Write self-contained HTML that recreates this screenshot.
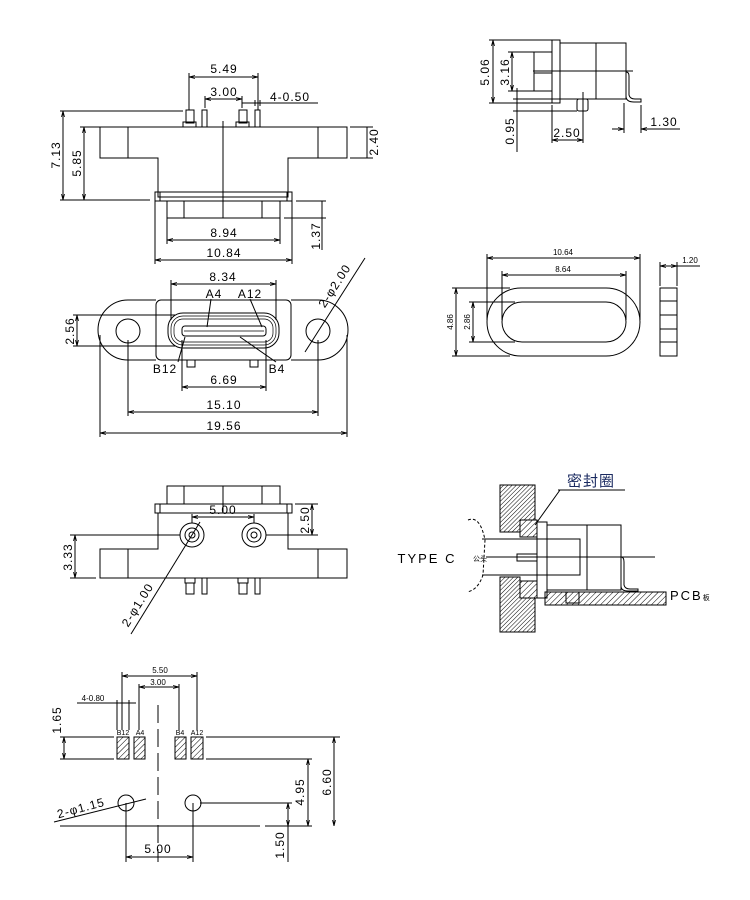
<!DOCTYPE html>
<html><head><meta charset="utf-8"><style>
html,body{margin:0;padding:0;background:#fff}
svg{display:block}
text{font-family:"Liberation Sans","Noto Sans CJK SC",sans-serif;font-size:12px;fill:#000;letter-spacing:1px}
.s{font-size:8px;letter-spacing:0}
</style></head><body>
<svg width="750" height="900" viewBox="0 0 750 900" xmlns="http://www.w3.org/2000/svg">
<defs>
<pattern id="h" width="4" height="4" patternUnits="userSpaceOnUse" patternTransform="rotate(45)"><line x1="0" y1="0" x2="0" y2="4" stroke="#000" stroke-width="1"/></pattern>
<pattern id="h2" width="3" height="3" patternUnits="userSpaceOnUse" patternTransform="rotate(45)"><line x1="0" y1="0" x2="0" y2="3" stroke="#000" stroke-width="1"/></pattern>
<marker id="a" markerWidth="6" markerHeight="6" refX="6" refY="3" orient="auto-start-reverse" markerUnits="userSpaceOnUse"><path d="M0,1.5 L6,3 L0,4.5" fill="none" stroke="#000" stroke-width="0.8"/></marker>
</defs>
<g fill="none" stroke="#000" stroke-width="1">
<!-- VIEW 1 -->
<path d="M100,127 H347 V158 H288 V197 H158 V158 H100 Z"/>
<line x1="128" y1="127" x2="128" y2="158"/><line x1="318" y1="127" x2="318" y2="158"/>
<rect x="155" y="192" width="137" height="9"/>
<line x1="160" y1="192" x2="160" y2="201"/><line x1="287" y1="192" x2="287" y2="201"/>
<rect x="167" y="201" width="113" height="17"/>
<line x1="184" y1="201" x2="184" y2="218"/><line x1="262" y1="201" x2="262" y2="218"/>
<line x1="223" y1="121" x2="223" y2="218"/>
<rect x="186" y="110" width="8" height="13"/><rect x="183" y="122" width="13" height="5"/>
<rect x="202" y="110" width="5" height="17"/>
<rect x="239" y="110" width="8" height="13"/><rect x="236" y="122" width="13" height="5"/>
<rect x="255" y="110" width="5" height="17"/>
<line x1="189" y1="73" x2="189" y2="110"/><line x1="258" y1="73" x2="258" y2="110"/>
<line x1="189" y1="77" x2="258" y2="77" marker-start="url(#a)" marker-end="url(#a)"/>
<line x1="205" y1="96" x2="205" y2="108"/><line x1="242" y1="96" x2="242" y2="108"/>
<line x1="205" y1="99" x2="242" y2="99" marker-start="url(#a)" marker-end="url(#a)"/>
<line x1="242" y1="103" x2="318" y2="103"/>
<line x1="255" y1="100" x2="255" y2="106"/><line x1="260" y1="100" x2="260" y2="106"/>
<line x1="60" y1="111" x2="183" y2="111"/>
<line x1="60" y1="200" x2="150" y2="200"/>
<line x1="63" y1="111" x2="63" y2="200" marker-start="url(#a)" marker-end="url(#a)"/>
<line x1="80" y1="127" x2="100" y2="127"/>
<line x1="84" y1="127" x2="84" y2="200" marker-start="url(#a)" marker-end="url(#a)"/>
<line x1="350" y1="127" x2="373" y2="127"/><line x1="350" y1="158" x2="373" y2="158"/>
<line x1="367" y1="127" x2="367" y2="158"/>
<line x1="296" y1="201" x2="326" y2="201"/><line x1="284" y1="218" x2="326" y2="218"/>
<line x1="322" y1="201" x2="322" y2="250"/>
<line x1="167" y1="218" x2="167" y2="244"/><line x1="280" y1="218" x2="280" y2="244"/>
<line x1="167" y1="240" x2="280" y2="240" marker-start="url(#a)" marker-end="url(#a)"/>
<line x1="155" y1="201" x2="155" y2="264"/><line x1="292" y1="201" x2="292" y2="264"/>
<line x1="155" y1="260" x2="292" y2="260" marker-start="url(#a)" marker-end="url(#a)"/>
<!-- VIEW 2 -->
<rect x="156" y="300" width="135" height="60" rx="5"/>
<path d="M156,300 H128 A30,30 0 0 0 128,360 H156"/>
<path d="M291,300 H318 A30,30 0 0 1 318,360 H291"/>
<circle cx="128" cy="331" r="12"/><circle cx="318" cy="331" r="12"/>
<rect x="168" y="313" width="111" height="35" rx="15"/>
<rect x="171" y="316" width="105" height="29" rx="12" stroke-width="0.7"/>
<rect x="174" y="319" width="99" height="23" rx="9" stroke-width="0.7"/>
<rect x="182" y="326" width="84" height="10" rx="3"/>
<line x1="184" y1="331" x2="264" y2="331" stroke-width="0.7"/>
<rect x="187" y="360" width="8" height="7"/><rect x="250" y="360" width="8" height="7"/>
<line x1="171" y1="280" x2="171" y2="320"/><line x1="276" y1="280" x2="276" y2="320"/>
<line x1="171" y1="284" x2="276" y2="284" marker-start="url(#a)" marker-end="url(#a)"/>
<line x1="211" y1="299" x2="207" y2="327"/><line x1="250" y1="299" x2="262" y2="327"/>
<line x1="178" y1="362" x2="185" y2="337"/><line x1="276" y1="362" x2="240" y2="337"/>
<line x1="73" y1="315" x2="175" y2="315"/><line x1="73" y1="346" x2="175" y2="346"/>
<line x1="77" y1="315" x2="77" y2="346" marker-start="url(#a)" marker-end="url(#a)"/>
<line x1="182" y1="340" x2="182" y2="391"/><line x1="266" y1="340" x2="266" y2="391"/>
<line x1="182" y1="387" x2="266" y2="387" marker-start="url(#a)" marker-end="url(#a)"/>
<line x1="128" y1="340" x2="128" y2="416"/><line x1="318" y1="340" x2="318" y2="416"/>
<line x1="128" y1="412" x2="318" y2="412" marker-start="url(#a)" marker-end="url(#a)"/>
<line x1="100" y1="335" x2="100" y2="437"/><line x1="347" y1="335" x2="347" y2="437"/>
<line x1="100" y1="433" x2="347" y2="433" marker-start="url(#a)" marker-end="url(#a)"/>
<line x1="305" y1="352" x2="365" y2="258"/>
<!-- VIEW 3 -->
<rect x="167" y="486" width="113" height="18"/>
<line x1="184" y1="486" x2="184" y2="504"/><line x1="262" y1="486" x2="262" y2="504"/><line x1="223" y1="486" x2="223" y2="513"/>
<rect x="155" y="504" width="137" height="9"/>
<line x1="160" y1="504" x2="160" y2="513"/><line x1="287" y1="504" x2="287" y2="513"/>
<path d="M158,513 V549 H100 V578 H347 V549 H288 V513"/>
<line x1="128" y1="549" x2="128" y2="578"/><line x1="318" y1="549" x2="318" y2="578"/>
<circle cx="192" cy="535" r="12"/><circle cx="192" cy="535" r="7"/><circle cx="192" cy="535" r="3"/>
<circle cx="254" cy="535" r="12"/><circle cx="254" cy="535" r="7"/><circle cx="254" cy="535" r="3"/>
<rect x="185" y="578" width="10" height="5"/><rect x="186" y="583" width="8" height="11"/>
<rect x="202" y="578" width="5" height="16"/>
<rect x="238" y="578" width="10" height="5"/><rect x="239" y="583" width="8" height="11"/>
<rect x="255" y="578" width="5" height="16"/>
<line x1="192" y1="514" x2="192" y2="523"/><line x1="254" y1="514" x2="254" y2="523"/>
<line x1="192" y1="517" x2="254" y2="517" marker-start="url(#a)" marker-end="url(#a)"/>
<line x1="295" y1="504" x2="318" y2="504"/><line x1="266" y1="535" x2="318" y2="535"/>
<line x1="312" y1="504" x2="312" y2="535" marker-start="url(#a)" marker-end="url(#a)"/>
<line x1="70" y1="535" x2="180" y2="535"/><line x1="70" y1="578" x2="96" y2="578"/>
<line x1="75" y1="535" x2="75" y2="578" marker-start="url(#a)" marker-end="url(#a)"/>
<line x1="200" y1="522" x2="131" y2="634"/>
<!-- VIEW 4 -->
<rect x="117" y="737" width="12" height="22" fill="url(#h)"/>
<rect x="134" y="737" width="11" height="22" fill="url(#h)"/>
<rect x="175" y="737" width="11" height="22" fill="url(#h)"/>
<rect x="191" y="737" width="12" height="22" fill="url(#h)"/>
<line x1="60" y1="737" x2="114" y2="737"/><line x1="206" y1="737" x2="340" y2="737"/>
<line x1="60" y1="759" x2="114" y2="759"/><line x1="206" y1="759" x2="312" y2="759"/>
<line x1="64" y1="737" x2="64" y2="759" marker-start="url(#a)" marker-end="url(#a)"/>
<line x1="158" y1="705" x2="158" y2="862" stroke-dasharray="18,6"/>
<circle cx="126" cy="803" r="8"/><circle cx="193" cy="803" r="8"/>
<line x1="200" y1="803" x2="292" y2="803"/>
<line x1="60" y1="826" x2="260" y2="826"/><line x1="265" y1="826" x2="312" y2="826"/>
<line x1="334" y1="737" x2="334" y2="826" marker-start="url(#a)" marker-end="url(#a)"/>
<line x1="308" y1="759" x2="308" y2="826" marker-start="url(#a)" marker-end="url(#a)"/>
<line x1="288" y1="803" x2="288" y2="826" marker-start="url(#a)" marker-end="url(#a)"/>
<line x1="288" y1="826" x2="288" y2="862"/>
<line x1="126" y1="803" x2="126" y2="862"/><line x1="193" y1="803" x2="193" y2="862"/>
<line x1="126" y1="857" x2="193" y2="857" marker-start="url(#a)" marker-end="url(#a)"/>
<line x1="122" y1="672" x2="122" y2="730"/><line x1="197" y1="672" x2="197" y2="730"/>
<line x1="122" y1="676" x2="197" y2="676" marker-start="url(#a)" marker-end="url(#a)"/>
<line x1="139" y1="684" x2="139" y2="730"/><line x1="179" y1="684" x2="179" y2="730"/>
<line x1="139" y1="687" x2="179" y2="687" marker-start="url(#a)" marker-end="url(#a)"/>
<line x1="117" y1="700" x2="117" y2="730"/><line x1="129" y1="700" x2="129" y2="730"/>
<line x1="77" y1="703" x2="136" y2="703"/>
<line x1="54" y1="822" x2="146" y2="799"/>
<!-- SIDE VIEW -->
<rect x="552" y="40" width="8" height="63"/>
<rect x="560" y="43" width="66" height="56"/>
<line x1="596" y1="43" x2="596" y2="99"/>
<rect x="534" y="52" width="18" height="39"/>
<line x1="533" y1="71" x2="633" y2="71"/>
<line x1="534" y1="73" x2="552" y2="73"/>
<path d="M626,72 Q629,72 629,76 V95 Q630,99 635,99 H641 V102 H634 Q626,102 626,96"/>
<rect x="577" y="99" width="11" height="12" rx="2"/>
<line x1="489" y1="40" x2="552" y2="40"/><line x1="489" y1="103" x2="552" y2="103"/>
<line x1="493" y1="40" x2="493" y2="103" marker-start="url(#a)" marker-end="url(#a)"/>
<line x1="508" y1="52" x2="534" y2="52"/><line x1="508" y1="91" x2="534" y2="91"/>
<line x1="512" y1="52" x2="512" y2="91" marker-start="url(#a)" marker-end="url(#a)"/>
<line x1="513" y1="99" x2="577" y2="99"/><line x1="513" y1="111" x2="577" y2="111"/>
<line x1="517" y1="88" x2="517" y2="152"/>
<line x1="552" y1="105" x2="552" y2="143"/><line x1="583" y1="92" x2="583" y2="143"/>
<line x1="552" y1="140" x2="583" y2="140" marker-start="url(#a)" marker-end="url(#a)"/>
<line x1="624" y1="103" x2="624" y2="133"/><line x1="641" y1="105" x2="641" y2="133"/>
<line x1="612" y1="129" x2="624" y2="129" marker-end="url(#a)"/>
<line x1="653" y1="129" x2="641" y2="129" marker-end="url(#a)"/>
<line x1="641" y1="129" x2="680" y2="129"/>
<!-- SEAL -->
<rect x="487" y="288" width="153" height="68" rx="34"/>
<rect x="502" y="302" width="124" height="40" rx="20"/>
<line x1="487" y1="254" x2="487" y2="320"/><line x1="640" y1="254" x2="640" y2="320"/>
<line x1="487" y1="258" x2="640" y2="258" marker-start="url(#a)" marker-end="url(#a)"/>
<line x1="502" y1="271" x2="502" y2="320"/><line x1="626" y1="271" x2="626" y2="320"/>
<line x1="502" y1="275" x2="626" y2="275" marker-start="url(#a)" marker-end="url(#a)"/>
<line x1="452" y1="288" x2="510" y2="288"/><line x1="452" y1="356" x2="510" y2="356"/>
<line x1="456" y1="288" x2="456" y2="356" marker-start="url(#a)" marker-end="url(#a)"/>
<line x1="469" y1="302" x2="515" y2="302"/><line x1="469" y1="342" x2="515" y2="342"/>
<line x1="473" y1="302" x2="473" y2="342" marker-start="url(#a)" marker-end="url(#a)"/>
<rect x="660" y="288" width="17" height="68"/>
<line x1="660" y1="301" x2="677" y2="301"/><line x1="660" y1="315" x2="677" y2="315"/><line x1="660" y1="329" x2="677" y2="329"/><line x1="660" y1="342" x2="677" y2="342"/>
<line x1="660" y1="262" x2="660" y2="286"/><line x1="677" y1="262" x2="677" y2="286"/>
<line x1="660" y1="266" x2="677" y2="266" marker-start="url(#a)" marker-end="url(#a)"/>
<line x1="677" y1="266" x2="700" y2="266"/>
<!-- ASSEMBLY -->
<path d="M500,485 H535 V520 H520 V532 H500 Z" fill="url(#h2)"/>
<path d="M500,577 H520 V598 H535 V632 H500 Z" fill="url(#h2)"/>
<rect x="520" y="520" width="17" height="17" fill="url(#h)"/>
<rect x="520" y="581" width="17" height="17" fill="url(#h)"/>
<rect x="537" y="522" width="10" height="76"/>
<rect x="547" y="525" width="74" height="65"/>
<line x1="587" y1="525" x2="587" y2="590"/>
<path d="M482,539 H580 V575 H482"/>
<rect x="517" y="554" width="20" height="7"/>
<path d="M468,520 Q480,515 485,540 L483,575 Q478,590 467,592" stroke-dasharray="3,2"/>
<line x1="486" y1="557" x2="655" y2="557"/>
<path d="M621,557 Q624,557 624,562 V585 Q625,589 630,589 H638 V591 H628 Q621,591 621,586"/>
<rect x="545" y="592" width="121" height="13" fill="url(#h)"/>
<rect x="566" y="592" width="13" height="11" fill="#fff"/>
<rect x="566" y="592" width="13" height="11" fill="url(#h)"/>
<line x1="558" y1="490" x2="625" y2="490"/><line x1="560" y1="490" x2="535" y2="525"/>
</g>
<!-- TEXT -->
<text x="224" y="73" text-anchor="middle">5.49</text>
<text x="224" y="96" text-anchor="middle">3.00</text>
<text x="290" y="101" text-anchor="middle">4-0.50</text>
<text transform="translate(60,155) rotate(-90)" text-anchor="middle">7.13</text>
<text transform="translate(81,163) rotate(-90)" text-anchor="middle">5.85</text>
<text transform="translate(378,142) rotate(-90)" text-anchor="middle">2.40</text>
<text transform="translate(320,236) rotate(-90)" text-anchor="middle">1.37</text>
<text x="224" y="237" text-anchor="middle">8.94</text>
<text x="224" y="257" text-anchor="middle">10.84</text>
<text x="223" y="281" text-anchor="middle">8.34</text>
<text x="214" y="298" text-anchor="middle">A4</text>
<text x="250" y="298" text-anchor="middle">A12</text>
<text x="165" y="373" text-anchor="middle">B12</text>
<text x="277" y="373" text-anchor="middle">B4</text>
<text transform="translate(74,331) rotate(-90)" text-anchor="middle">2.56</text>
<text x="224" y="384" text-anchor="middle">6.69</text>
<text x="224" y="409" text-anchor="middle">15.10</text>
<text x="224" y="430" text-anchor="middle">19.56</text>
<text transform="translate(338,288) rotate(-57)" text-anchor="middle">2-φ2.00</text>
<text x="223" y="514" text-anchor="middle">5.00</text>
<text transform="translate(309,520) rotate(-90)" text-anchor="middle">2.50</text>
<text transform="translate(72,557) rotate(-90)" text-anchor="middle">3.33</text>
<text transform="translate(141,607) rotate(-58)" text-anchor="middle">2-φ1.00</text>
<text x="160" y="673" text-anchor="middle" class="s">5.50</text>
<text x="158" y="685" text-anchor="middle" class="s">3.00</text>
<text x="93" y="701" text-anchor="middle" class="s">4-0.80</text>
<text x="123" y="735" text-anchor="middle" class="s" style="font-size:7px">B12</text>
<text x="140" y="735" text-anchor="middle" class="s" style="font-size:7px">A4</text>
<text x="180" y="735" text-anchor="middle" class="s" style="font-size:7px">B4</text>
<text x="197" y="735" text-anchor="middle" class="s" style="font-size:7px">A12</text>
<text transform="translate(61,720) rotate(-90)" text-anchor="middle">1.65</text>
<text transform="translate(304,792) rotate(-90)" text-anchor="middle">4.95</text>
<text transform="translate(331,782) rotate(-90)" text-anchor="middle">6.60</text>
<text transform="translate(284,845) rotate(-90)" text-anchor="middle">1.50</text>
<text x="158" y="853" text-anchor="middle">5.00</text>
<text transform="translate(82,812) rotate(-15)" text-anchor="middle">2-φ1.15</text>
<text transform="translate(489,72) rotate(-90)" text-anchor="middle">5.06</text>
<text transform="translate(509,72) rotate(-90)" text-anchor="middle">3.16</text>
<text transform="translate(514,131) rotate(-90)" text-anchor="middle">0.95</text>
<text x="567" y="137" text-anchor="middle">2.50</text>
<text x="664" y="126" text-anchor="middle">1.30</text>
<text x="563" y="255" text-anchor="middle" class="s">10.64</text>
<text x="563" y="272" text-anchor="middle" class="s">8.64</text>
<text transform="translate(453,322) rotate(-90)" text-anchor="middle" class="s">4.86</text>
<text transform="translate(470,322) rotate(-90)" text-anchor="middle" class="s">2.86</text>
<text x="690" y="263" text-anchor="middle" class="s">1.20</text>
<text x="427" y="563" text-anchor="middle" style="font-size:13px;letter-spacing:2px">TYPE C</text>
<text x="473" y="561" style="font-size:7px;letter-spacing:0">公头</text>
<text x="591" y="486" text-anchor="middle" style="font-size:15px;fill:#1a2a60">密封圈</text>
<text x="670" y="600" style="font-size:13px;letter-spacing:2px">PCB<tspan style="font-size:7px;letter-spacing:0">板</tspan></text>
</svg>
</body></html>
